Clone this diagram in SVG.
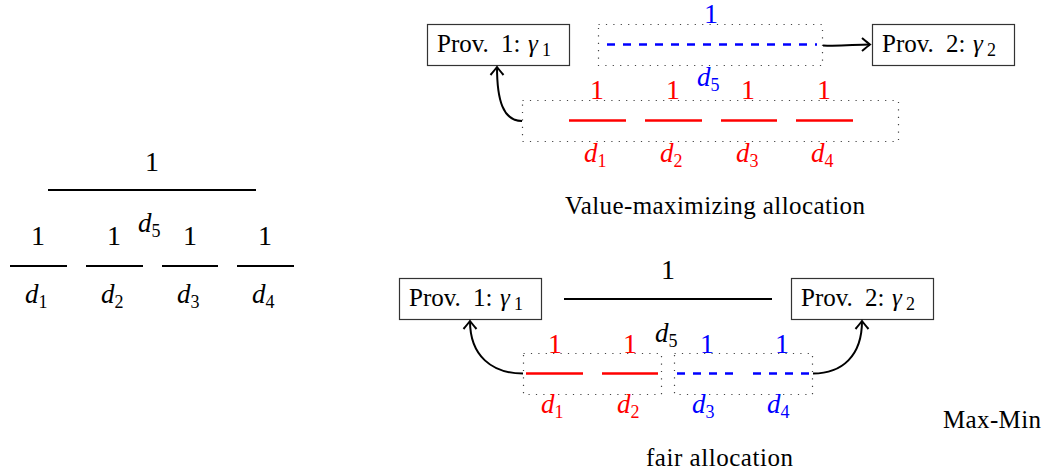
<svg xmlns="http://www.w3.org/2000/svg" width="1047" height="472" viewBox="0 0 1047 472">
<style>
text{font-family:"Liberation Serif","Times New Roman",serif;fill:#000}
.n{font-size:28px}
.it{font-style:italic;font-size:27px}
.sub{font-size:18px}
.lbl{font-size:25px}
.red{fill:#ff0000}
.blue{fill:#0000ff}
.box{fill:#fff;stroke:#333;stroke-width:1.2}
.dot{fill:none;stroke:#444;stroke-width:1.2;stroke-dasharray:1.2 6.2}
.bl{stroke:#000;stroke-width:2.2;fill:none}
.rl{stroke:#ff0000;stroke-width:2.4;fill:none}
.bd{stroke:#0000ff;stroke-width:2.4;fill:none;stroke-dasharray:8 8}
.arr{stroke:#000;stroke-width:2;fill:none;marker-end:url(#ah)}
</style>
<defs>
<marker id="ah" viewBox="-10 -8 12 16" refX="0" refY="0" markerWidth="12" markerHeight="16" markerUnits="userSpaceOnUse" orient="auto">
<path d="M-8,-6.5 Q-2,-1.5 0,0 Q-2,1.5 -8,6.5" fill="none" stroke="#000" stroke-width="2"/>
</marker>
</defs>

<g id="left-panel">
<line class="bl" x1="48" y1="190" x2="256" y2="190"/>
<text class="n" x="152" y="171" text-anchor="middle">1</text>
<text class="it" x="138" y="232">d<tspan class="sub" font-style="normal" dy="5">5</tspan></text>
<line class="bl" x1="10" y1="266" x2="67" y2="266"/>
<line class="bl" x1="86" y1="266" x2="143" y2="266"/>
<line class="bl" x1="162" y1="266" x2="218" y2="266"/>
<line class="bl" x1="237" y1="266" x2="294" y2="266"/>
<text class="n" x="38" y="245" text-anchor="middle">1</text>
<text class="n" x="114" y="245" text-anchor="middle">1</text>
<text class="n" x="190" y="245" text-anchor="middle">1</text>
<text class="n" x="265" y="245" text-anchor="middle">1</text>
<text class="it" x="25" y="303">d<tspan class="sub" font-style="normal" dy="5">1</tspan></text>
<text class="it" x="101" y="303">d<tspan class="sub" font-style="normal" dy="5">2</tspan></text>
<text class="it" x="177" y="303">d<tspan class="sub" font-style="normal" dy="5">3</tspan></text>
<text class="it" x="252" y="303">d<tspan class="sub" font-style="normal" dy="5">4</tspan></text>
</g>

<g id="top-prov1">
<rect class="box" x="427.5" y="24.5" width="142" height="41"/>
<text class="lbl" x="437" y="52">Prov.</text>
<text class="lbl" x="501" y="52">1:</text>
<text class="lbl" x="528" y="52" font-style="italic">γ</text>
<text class="sub" x="542" y="56">1</text>
</g>
<g id="top-prov2">
<rect class="box" x="872.5" y="24.5" width="142" height="41"/>
<text class="lbl" x="882" y="52">Prov.</text>
<text class="lbl" x="946" y="52">2:</text>
<text class="lbl" x="973" y="52" font-style="italic">γ</text>
<text class="sub" x="987" y="56">2</text>
</g>
<g id="top-d5">
<rect class="dot" x="598.5" y="24.5" width="224" height="41"/>
<line class="bd" x1="607" y1="44.5" x2="817" y2="44.5"/>
<text class="n blue" x="711" y="23" text-anchor="middle">1</text>
<text class="it blue" x="697" y="86">d<tspan class="sub" font-style="normal" dy="5">5</tspan></text>
</g>
<g id="top-d1-d4">
<rect class="dot" x="522.5" y="100.5" width="376" height="41"/>
<line class="rl" x1="569" y1="120.5" x2="626" y2="120.5"/>
<line class="rl" x1="645" y1="120.5" x2="702" y2="120.5"/>
<line class="rl" x1="721" y1="120.5" x2="777" y2="120.5"/>
<line class="rl" x1="796" y1="120.5" x2="853" y2="120.5"/>
<text class="n red" x="597" y="99" text-anchor="middle">1</text>
<text class="n red" x="673" y="99" text-anchor="middle">1</text>
<text class="n red" x="748" y="99" text-anchor="middle">1</text>
<text class="n red" x="824" y="99" text-anchor="middle">1</text>
<text class="it red" x="584" y="162">d<tspan class="sub" font-style="normal" dy="5">1</tspan></text>
<text class="it red" x="660" y="162">d<tspan class="sub" font-style="normal" dy="5">2</tspan></text>
<text class="it red" x="736" y="162">d<tspan class="sub" font-style="normal" dy="5">3</tspan></text>
<text class="it red" x="811" y="162">d<tspan class="sub" font-style="normal" dy="5">4</tspan></text>
</g>
<g id="caption-top">
<text class="lbl" x="565" y="214" textLength="300">Value-maximizing allocation</text>
</g>

<g id="bot-prov1">
<rect class="box" x="399.5" y="278.5" width="142" height="41"/>
<text class="lbl" x="409" y="306">Prov.</text>
<text class="lbl" x="473" y="306">1:</text>
<text class="lbl" x="500" y="306" font-style="italic">γ</text>
<text class="sub" x="514" y="310">1</text>
</g>
<g id="bot-prov2">
<rect class="box" x="791.5" y="278.5" width="142" height="41"/>
<text class="lbl" x="801" y="306">Prov.</text>
<text class="lbl" x="865" y="306">2:</text>
<text class="lbl" x="892" y="306" font-style="italic">γ</text>
<text class="sub" x="906" y="310">2</text>
</g>
<g id="bot-d5">
<line class="bl" x1="564" y1="299" x2="772" y2="299"/>
<text class="n" x="668" y="279" text-anchor="middle">1</text>
<text class="it" x="655" y="342">d<tspan class="sub" font-style="normal" dy="5">5</tspan></text>
</g>
<g id="bot-d1-d2">
<rect class="dot" x="523.5" y="353.5" width="138" height="41"/>
<line class="rl" x1="526" y1="373.5" x2="583" y2="373.5"/>
<line class="rl" x1="602" y1="373.5" x2="658" y2="373.5"/>
<text class="n red" x="555" y="353" text-anchor="middle">1</text>
<text class="n red" x="630" y="353" text-anchor="middle">1</text>
<text class="it red" x="541" y="413">d<tspan class="sub" font-style="normal" dy="5">1</tspan></text>
<text class="it red" x="617" y="413">d<tspan class="sub" font-style="normal" dy="5">2</tspan></text>
</g>
<g id="bot-d3-d4">
<rect class="dot" x="674.5" y="353.5" width="138" height="41"/>
<line class="bd" x1="677" y1="373.5" x2="733" y2="373.5"/>
<line class="bd" x1="753" y1="373.5" x2="809" y2="373.5"/>
<text class="n blue" x="707" y="353" text-anchor="middle">1</text>
<text class="n blue" x="782" y="353" text-anchor="middle">1</text>
<text class="it blue" x="692" y="413">d<tspan class="sub" font-style="normal" dy="5">3</tspan></text>
<text class="it blue" x="767" y="413">d<tspan class="sub" font-style="normal" dy="5">4</tspan></text>
</g>
<g id="caption-bottom">
<text class="lbl" x="943" y="428" textLength="98">Max-Min</text>
<text class="lbl" x="646" y="466" textLength="147">fair allocation</text>
</g>

<g id="connectors">
<path class="arr" d="M823,45.5 C840,46.5 855,44.5 870,44.5"/>
<path class="arr" d="M522,121 C503,121 497,100 497,67"/>
<path class="arr" d="M523,373.5 C492,373.5 470,356 470,321"/>
<path class="arr" d="M813,373.5 C842,373.5 862,356 862,321"/>
</g>
</svg>
